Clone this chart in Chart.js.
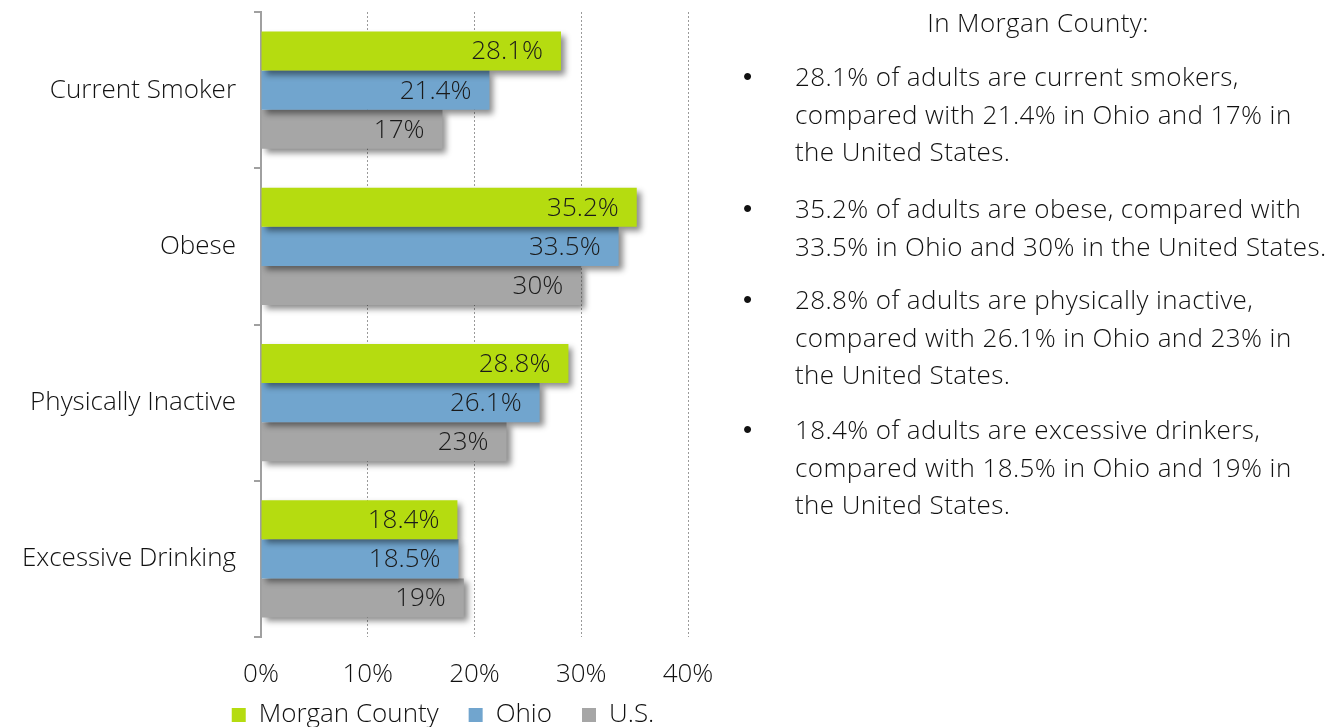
<!DOCTYPE html>
<html>
<head>
<meta charset="utf-8">
<script src="https://cdn.jsdelivr.net/npm/chart.js@4.4.1/dist/chart.umd.min.js"></script>
<style>
    body { margin: 0; background: #fff; font-family: 'Open Sans', sans-serif; font-weight: 300; color: #111; }
    #wrap { position: absolute; left: 0; top: 0; width: 886px; height: 727px; }
    #notes { position: absolute; left: 745px; top: 0; width: 596px; font-size: 26px; line-height: 37.5px; letter-spacing: 0.4px; }
    #notes .title { position: absolute; left: 0; width: 586px; text-align: center; top: 4px; }
    #notes .item { position: absolute; left: 0; }
    #notes .item .dot { position: absolute; left: -2px; top: 0; font-family: 'Liberation Sans', sans-serif; font-weight: 400; }
    #notes .item .txt { position: absolute; left: 50px; white-space: nowrap; }
</style>
</head>
<body>
<div id="wrap"><canvas id="risk-chart"></canvas></div>
<div id="notes">
    <div class="title">In Morgan County:</div>
    <div class="item" style="top:58px"><span class="dot">•</span><span class="txt">28.1% of adults are current smokers,<br>compared with 21.4% in Ohio and 17% in<br>the United States.</span></div>
    <div class="item" style="top:190px"><span class="dot">•</span><span class="txt">35.2% of adults are obese, compared with<br>33.5% in Ohio and 30% in the United States.</span></div>
    <div class="item" style="top:281px"><span class="dot">•</span><span class="txt">28.8% of adults are physically inactive,<br>compared with 26.1% in Ohio and 23% in<br>the United States.</span></div>
    <div class="item" style="top:411px"><span class="dot">•</span><span class="txt">18.4% of adults are excessive drinkers,<br>compared with 18.5% in Ohio and 19% in<br>the United States.</span></div>
</div>
<script>
const categories = ['Current Smoker', 'Obese', 'Physically Inactive', 'Excessive Drinking'];
const series = [
    { label: 'Morgan County', color: '#b5dc10', values: [28.1, 35.2, 28.8, 18.4] },
    { label: 'Ohio', color: '#71a5ce', values: [21.4, 33.5, 26.1, 18.5] },
    { label: 'U.S.', color: '#a6a6a6', values: [17, 30, 23, 19] }
];
const FONT = { family: "'Open Sans', sans-serif", size: 26, weight: 300 };

// Sombra nas barras
const barShadow = {
    id: 'barShadow',
    beforeDatasetsDraw(chart) {
        const ctx = chart.ctx;
        ctx.save();
        ctx.shadowColor = 'rgba(0,0,0,0.45)';
        ctx.shadowBlur = 6;
        ctx.shadowOffsetX = 4;
        ctx.shadowOffsetY = 4;
    },
    afterDatasetsDraw(chart) {
        chart.ctx.restore();
    }
};

// Rótulos dentro do fim da barra
const barLabels = {
    id: 'barLabels',
    afterDatasetsDraw(chart) {
        const ctx = chart.ctx;
        ctx.save();
        ctx.font = `${FONT.weight} ${FONT.size}px ${FONT.family}`;
        ctx.fillStyle = '#1a1a1a';
        ctx.textAlign = 'right';
        ctx.textBaseline = 'middle';
        chart.data.datasets.forEach((ds, i) => {
            chart.getDatasetMeta(i).data.forEach((bar, j) => {
                ctx.fillText(ds.data[j] + '%', bar.x - 18, bar.y + 1);
            });
        });
        ctx.restore();
    }
};

// Legenda centrada na largura toda do canvas, um pouco mais acima
const legendSpan = {
    id: 'legendSpan',
    beforeDraw(chart) {
        const lg = chart.legend;
        if (!lg) return;
        lg.left = 0;
        lg.right = chart.width;
        lg.width = chart.width;
        lg.top = 672;
        lg.bottom = chart.height;
        lg.height = lg.bottom - lg.top;
    }
};

new Chart(document.getElementById('risk-chart'), {
    type: 'bar',
    data: {
        labels: categories,
        datasets: series.map(s => ({
            label: s.label,
            data: s.values,
            backgroundColor: s.color,
            borderWidth: 0,
            barPercentage: 1.0,
            categoryPercentage: 0.75
        }))
    },
    options: {
        indexAxis: 'y',
        responsive: true,
        maintainAspectRatio: false,
        animation: false,
        layout: { padding: { top: 12, right: 198, left: 0, bottom: 0 } },
        plugins: {
            legend: {
                position: 'bottom',
                maxHeight: 37,
                labels: { boxWidth: 14, boxHeight: 14, padding: 30, color: '#111', font: FONT }
            },
            tooltip: { enabled: false }
        },
        scales: {
            x: {
                min: 0, max: 40,
                afterFit: scale => { scale.height = 53; },
                ticks: { stepSize: 10, color: '#111', font: FONT, padding: 22, callback: v => v + '%' },
                grid: { color: '#9a9a9a', lineWidth: 1, drawTicks: false },
                border: { display: false, dash: [2, 2] }
            },
            y: {
                afterFit: scale => {
                    scale.width = 261;
                    scale.paddingTop = 0;
                    scale.paddingBottom = 0;
                },
                ticks: { color: '#111', font: FONT, padding: 18 },
                grid: { offset: true, drawOnChartArea: false, drawTicks: true, tickLength: 7, color: '#a0a0a0', lineWidth: 2 },
                border: { display: true, color: '#a0a0a0', width: 2 }
            }
        }
    },
    plugins: [barShadow, barLabels, legendSpan]
});
</script>
</body>
</html>
